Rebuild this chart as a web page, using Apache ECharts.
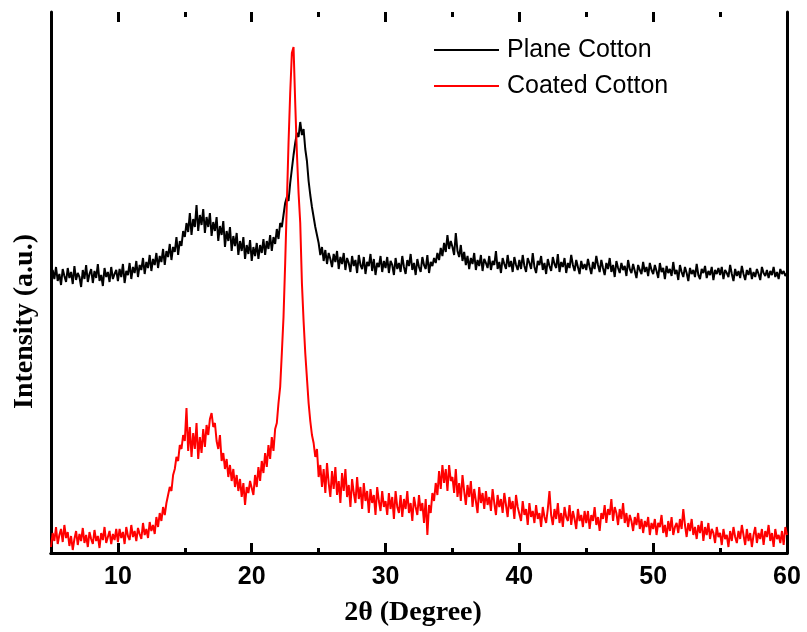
<!DOCTYPE html>
<html>
<head>
<meta charset="utf-8">
<script src="https://cdn.jsdelivr.net/npm/echarts@6/dist/echarts.min.js"></script>
<style>
  html, body { margin: 0; padding: 0; background: #fff; }
  #chart { width: 807px; height: 632px; }
</style>
</head>
<body>
<div id="chart"></div>
<script>
// 2θ sampling: start 5°, step 0.125° (one row = 5°)
const xStart = 5;
const xStep = 0.125;

// intensity (a.u.)
const planeCotton = [
  270, 283, 274, 286, 272, 279, 268, 284, 277, 271, 285, 275, 281, 269, 287, 273, 280, 276, 266, 283,
  274, 288, 271, 279, 284, 270, 282, 275, 289, 272, 278, 267, 285, 276, 281, 271, 286, 274, 279, 283,
  272, 284, 276, 289, 270, 282, 278, 290, 274, 286, 280, 292, 276, 288, 283, 295, 279, 291, 285, 298,
  282, 294, 288, 300, 285, 297, 291, 304, 288, 302, 296, 309, 293, 306, 301, 316, 298, 312, 307, 322,
  316, 330, 321, 340, 318, 334, 326, 348, 322, 338, 328, 344, 320, 336, 326, 340, 317, 331, 322, 336,
  312, 327, 318, 332, 306, 322, 312, 326, 302, 317, 307, 320, 298, 312, 302, 316, 294, 308, 299, 313,
  292, 306, 297, 310, 294, 308, 300, 314, 298, 312, 304, 318, 302, 316, 309, 324, 314, 330, 326, 338,
  350, 356, 352, 370, 384, 398, 410, 420, 416, 431, 418, 424, 404, 392, 372, 358, 346, 336, 326, 318,
  310, 298, 306, 292, 303, 289, 300, 294, 286, 299, 291, 302, 284, 296, 289, 300, 283, 295, 290, 281,
  297, 287, 293, 280, 298, 288, 284, 296, 279, 291, 287, 299, 282, 294, 278, 290, 286, 297, 281, 292,
  285, 296, 280, 292, 288, 278, 295, 284, 290, 281, 297, 286, 279, 293, 287, 299, 283, 290, 278, 294,
  286, 281, 296, 288, 284, 298, 280, 291, 287, 295, 290, 300, 293, 305, 297, 310, 301, 318, 304, 312,
  306, 298, 320, 302, 296, 308, 292, 301, 288, 297, 284, 295, 289, 300, 283, 293, 287, 298, 282, 294,
  290, 285, 297, 283, 292, 288, 302, 284, 291, 280, 295, 289, 284, 298, 286, 292, 281, 296, 288, 283,
  293, 284, 298, 287, 281, 295, 290, 284, 300, 286, 280, 292, 288, 297, 283, 290, 279, 294, 287, 282,
  296, 289, 285, 299, 281, 291, 286, 295, 280, 290, 285, 298, 288, 282, 293, 286, 279, 292, 284, 289,
  283, 294, 286, 279, 291, 284, 297, 288, 281, 293, 285, 278, 290, 284, 295, 281, 288, 276, 292, 285,
  280, 290, 283, 287, 277, 293, 284, 280, 289, 282, 275, 288, 283, 279, 291, 281, 286, 277, 290, 283,
  279, 288, 282, 275, 290, 281, 285, 274, 287, 280, 284, 277, 291, 279, 283, 273, 288, 281, 276, 286,
  280, 272, 285, 279, 283, 276, 289, 278, 274, 284, 280, 287, 275, 282, 278, 286, 273, 283, 279, 285,
  278, 286, 274, 283, 280, 276, 288, 279, 272, 284, 277, 282, 275, 287, 279, 273, 283, 278, 285, 274,
  281, 276, 284, 279, 273, 286, 280, 277, 283, 275, 282, 278, 286, 276, 281, 274, 284, 279, 282, 277,
  280
];

const coatedCotton = [
  6, 20, 12, 26, 9, 18, 24, 11, 28, 15, 21, 7, 17, 3, 14, 22, 8, 19, 12, 25,
  10, 18, 6, 21, 14, 9, 23, 12, 17, 5, 20, 13, 26, 10, 16, 22, 9, 19, 13, 24,
  11, 24, 15, 21, 9, 26, 17, 13, 28, 16, 22, 12, 25, 19, 14, 30, 18, 24, 15, 31,
  22, 28, 19, 36, 26, 40, 32, 46, 38, 50, 58, 66, 62, 78, 84, 96, 92, 108, 104, 118,
  112, 145, 102, 126, 96, 120, 104, 130, 94, 116, 100, 124, 106, 128, 118, 134, 140, 126, 130, 112,
  104, 118, 92, 100, 84, 94, 76, 88, 72, 84, 66, 78, 62, 74, 56, 70, 48, 66, 60, 72,
  70, 58, 78, 66, 86, 72, 92, 80, 100, 86, 108, 94, 116, 102, 124, 130, 150, 166, 200, 236,
  290, 350, 410, 460, 500, 506, 450, 400, 360, 330, 270, 232, 200, 175, 150, 132, 118, 110, 96, 104,
  76, 88, 66, 84, 60, 90, 70, 56, 82, 64, 86, 58, 72, 50, 80, 62, 84, 56, 68, 46,
  74, 60, 50, 76, 54, 66, 44, 70, 52, 62, 40, 64, 50, 58, 38, 66, 52, 42, 62, 46,
  52, 38, 60, 44, 56, 34, 62, 46, 40, 58, 36, 54, 44, 62, 40, 50, 32, 56, 46, 38,
  58, 42, 50, 30, 54, 18, 48, 40, 60, 52, 70, 58, 82, 64, 88, 70, 84, 62, 88, 72,
  76, 60, 84, 56, 70, 52, 78, 62, 48, 68, 56, 72, 46, 64, 52, 40, 66, 50, 60, 44,
  62, 48, 56, 42, 64, 50, 38, 58, 46, 54, 40, 60, 48, 36, 56, 44, 52, 34, 58, 46,
  46, 32, 52, 38, 44, 28, 50, 36, 42, 30, 48, 34, 40, 26, 46, 36, 30, 44, 62, 38,
  28, 44, 34, 50, 30, 40, 26, 46, 36, 32, 48, 28, 42, 34, 24, 44, 32, 38, 26, 42,
  30, 42, 24, 38, 32, 46, 28, 36, 22, 40, 34, 48, 30, 44, 38, 54, 32, 46, 40, 28,
  44, 34, 50, 30, 40, 26, 38, 32, 22, 36, 28, 40, 24, 34, 20, 32, 26, 36, 18, 30,
  24, 34, 18, 30, 26, 38, 20, 28, 16, 32, 22, 36, 18, 26, 30, 20, 34, 24, 44, 28,
  16, 30, 22, 34, 18, 26, 14, 28, 20, 32, 12, 26, 18, 30, 14, 24, 20, 10, 26, 16,
  20, 8, 24, 14, 18, 6, 22, 12, 26, 16, 10, 22, 14, 28, 18, 8, 24, 12, 20, 6,
  18, 26, 10, 20, 14, 24, 8, 22, 16, 28, 12, 20, 6, 24, 14, 18, 10, 22, 8, 26,
  18
];

const majorTicks = [10, 20, 30, 40, 50, 60];
const minorTicks = [15, 25, 35, 45, 55];

const toPairs = arr => arr.map((v, i) => [xStart + i * xStep, v]);

const chart = echarts.init(document.getElementById('chart'));

const frameLine = { show: true, lineStyle: { color: '#000', width: 3 } };
const gridBox = { left: 51, right: 20, top: 12, bottom: 79, containLabel: false };

// one axis per side per grid, so the tick sets live on stacked grids
const tickAxis = (gridIndex, position, values, length, withLine) => ({
  type: 'value', min: 5, max: 60,
  gridIndex,
  position,
  axisLine: withLine ? frameLine : { show: false },
  axisTick: values ? {
    show: true, inside: true, length,
    lineStyle: { color: '#000', width: 3 },
    customValues: values
  } : { show: false },
  axisLabel: { show: false },
  splitLine: { show: false }
});

const bottomAxis = tickAxis(0, 'bottom', majorTicks, 10, true);
bottomAxis.axisLabel = {
  show: true, margin: 12,
  fontFamily: 'Liberation Sans', fontWeight: 'bold', fontSize: 25, color: '#000',
  customValues: majorTicks
};
bottomAxis.name = '2θ (Degree)';
bottomAxis.nameLocation = 'middle';
bottomAxis.nameGap = 46;
bottomAxis.nameTextStyle = {
  fontFamily: 'Liberation Serif', fontWeight: 'bold', fontSize: 28, color: '#000',
  padding: [0, 12, 0, 0]
};

const hiddenY = gridIndex => ({
  type: 'value', min: 0, max: 541, gridIndex, show: false
});

const option = {
  animation: false,
  backgroundColor: '#fff',
  grid: [gridBox, gridBox, gridBox],
  legend: {
    orient: 'vertical',
    left: 429,
    top: 31,
    itemWidth: 65,
    itemHeight: 2,
    itemGap: 8,
    icon: 'rect',
    textStyle: {
      fontFamily: 'Liberation Sans', fontSize: 25, color: '#000', lineHeight: 28,
      padding: [0, 0, 0, 3]
    },
    data: ['Plane Cotton', 'Coated Cotton']
  },
  xAxis: [
    bottomAxis,
    tickAxis(0, 'top', null, 0, true),
    tickAxis(1, 'bottom', minorTicks, 5, false),
    tickAxis(1, 'top', majorTicks, 10, false),
    tickAxis(2, 'bottom', null, 0, false),
    tickAxis(2, 'top', minorTicks, 5, false)
  ],
  yAxis: [
    {
      type: 'value', min: 0, max: 541,
      gridIndex: 0,
      position: 'left',
      axisLine: frameLine,
      axisTick: { show: false },
      axisLabel: { show: false },
      splitLine: { show: false },
      name: 'Intensity (a.u.)',
      nameLocation: 'middle',
      nameGap: 12,
      nameRotate: 90,
      nameTextStyle: {
        fontFamily: 'Liberation Serif', fontWeight: 'bold', fontSize: 28, color: '#000',
        padding: [0, 78, 0, 0]
      }
    },
    {
      type: 'value', min: 0, max: 541,
      gridIndex: 0,
      position: 'right',
      axisLine: frameLine,
      axisTick: { show: false },
      axisLabel: { show: false },
      splitLine: { show: false }
    },
    hiddenY(1),
    hiddenY(2)
  ],
  series: [
    {
      name: 'Plane Cotton',
      type: 'line',
      xAxisIndex: 0,
      yAxisIndex: 0,
      data: toPairs(planeCotton),
      showSymbol: false,
      symbol: 'none',
      color: '#000',
      lineStyle: { color: '#000', width: 2 },
      z: 3
    },
    {
      name: 'Coated Cotton',
      type: 'line',
      xAxisIndex: 0,
      yAxisIndex: 0,
      data: toPairs(coatedCotton),
      showSymbol: false,
      symbol: 'none',
      color: '#ff0000',
      lineStyle: { color: '#ff0000', width: 2 },
      z: 4
    }
  ]
};

chart.setOption(option);
</script>
</body>
</html>
